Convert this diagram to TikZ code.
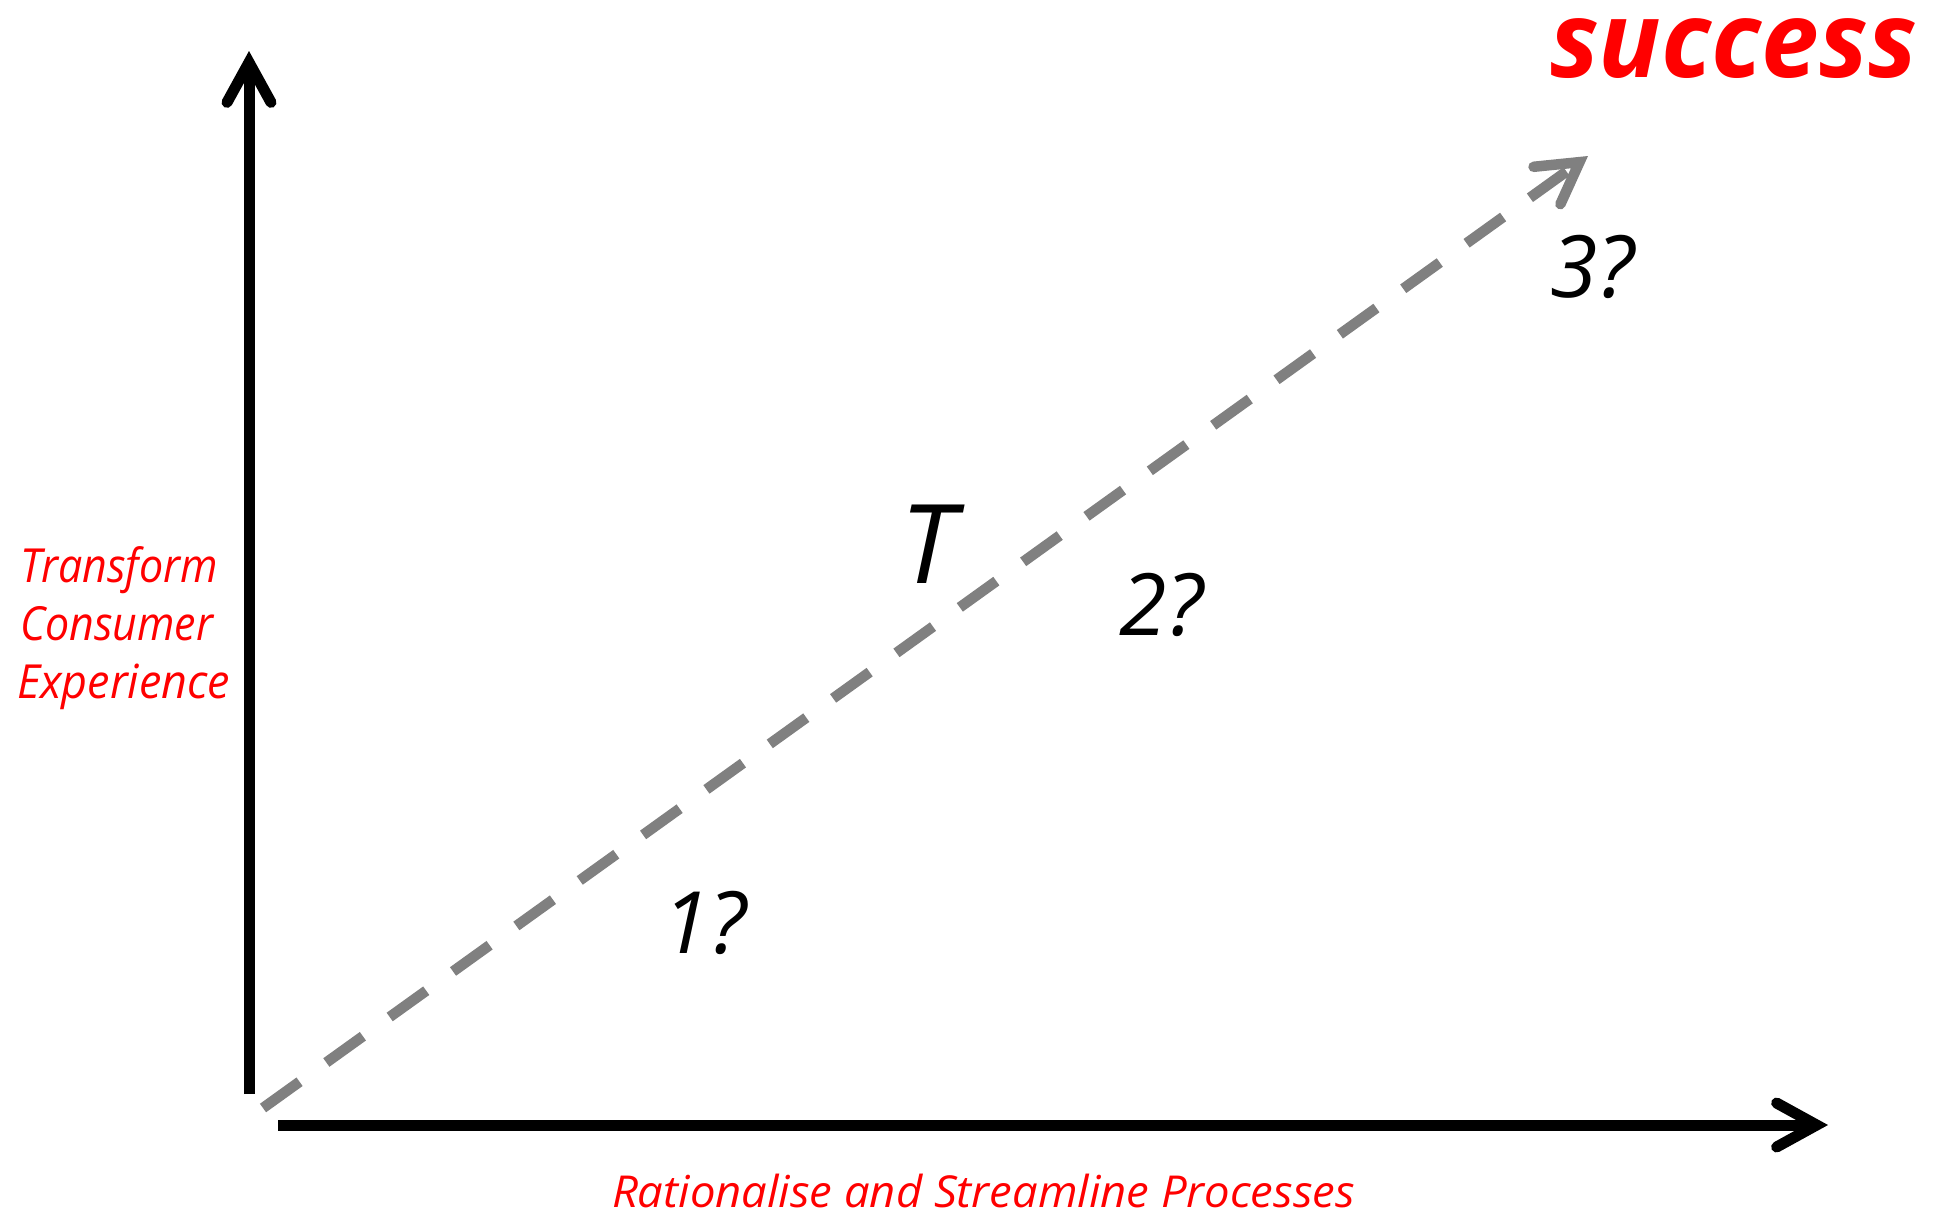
\documentclass[tikz,border=0pt]{standalone}
\usepackage{fontspec}
\setmainfont{Open Sans}
\usetikzlibrary{arrows.meta}
\definecolor{labelred}{RGB}{255,0,0}
\definecolor{dashgray}{RGB}{128,128,128}
\begin{document}
\begin{tikzpicture}[x=1pt,y=-1pt,
  axisline/.style={line width=11pt, black,
    -{Straight Barb[length=40pt,width=44pt,line cap=round,line join=miter]}},
  pathline/.style={line width=10.5pt, dashgray, dash pattern=on 45pt off 33pt,
    -{Straight Barb[length=40pt,width=46pt,line cap=round,line join=miter]}},
  lbl/.style={inner sep=0pt, outer sep=0pt, anchor=base west},
  redlbl/.style={lbl, text=labelred, font=\fontsize{47}{58}\selectfont\itshape},
  numlbl/.style={lbl, text=black, font=\fontsize{86}{86}\selectfont\itshape}
]
\useasboundingbox[fill=white] (0,0) rectangle (1940,1218);

\coordinate (vbot) at (249,1094);
\coordinate (vtop) at (249,51);
\coordinate (hleft) at (278,1125);
\coordinate (hright) at (1828,1125);
\coordinate (dstart) at (263,1108);
\coordinate (dend) at (1588,156);

\draw[axisline] (vbot) -- (vtop);
\draw[axisline] (hleft) -- (hright);
\draw[pathline] (dstart) -- (dend);

\node[lbl, text=labelred, font=\fontsize{106}{106}\selectfont\bfseries\itshape] (success) at (1550,77) {\resizebox{367pt}{\height}{success}};

\node[lbl, font=\fontsize{110}{110}\selectfont\itshape] (t) at (900,583) {T};
\node[numlbl] (q1) at (662,953) {1?};
\node[numlbl] (q2) at (1119,635) {2?};
\node[numlbl] (q3) at (1550,297) {3?};

\node[redlbl] (ylab1) at (20,582) {\resizebox{198pt}{\height}{Transform}};
\node[redlbl] (ylab2) at (20,640) {\resizebox{193pt}{\height}{Consumer}};
\node[redlbl] (ylab3) at (17,698) {\resizebox{213pt}{\height}{Experience}};

\node[lbl, text=labelred, font=\fontsize{44}{44}\selectfont\itshape] (xlab) at (612,1207) {\resizebox{743pt}{\height}{Rationalise and Streamline Processes}};
\end{tikzpicture}
\end{document}
